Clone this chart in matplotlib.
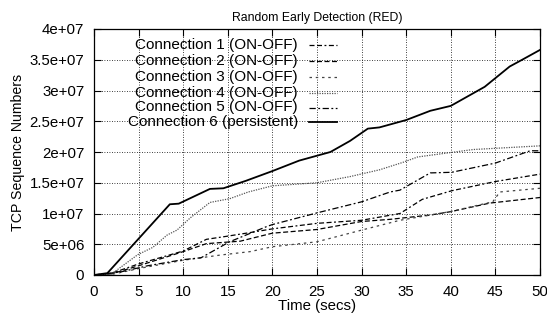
import matplotlib
matplotlib.use("Agg")
import matplotlib.pyplot as plt
from matplotlib.lines import Line2D

plt.rcParams['font.family'] = ['Liberation Sans', 'DejaVu Sans']

title = "Random Early Detection (RED)"
xlabel = "Time (secs)"
ylabel = "TCP Sequence Numbers"

# Connection 1 (ON-OFF)
c1_t = [0, 2, 5, 10, 12.6, 14.9, 17.5, 20, 25, 30, 34.3, 36.8, 40.1, 45, 50]
c1_y = [0, 0.3e6, 1.8e6, 3.9e6, 5.8e6, 6.3e6, 6.9e6, 7.5e6, 8.4e6, 8.9e6, 10.0e6, 12.3e6, 13.7e6, 15.2e6, 16.4e6]
# Connection 2 (ON-OFF)
c2_t = [0, 2, 5, 10, 12.6, 16.4, 20, 25, 30, 33.2, 37.7, 40, 44.4, 46.3, 50]
c2_y = [0, 0.2e6, 1.5e6, 3.8e6, 5.1e6, 5.5e6, 6.8e6, 7.4e6, 8.7e6, 9.05e6, 9.75e6, 10.3e6, 11.7e6, 12.0e6, 12.6e6]
# Connection 3 (ON-OFF)
c3_t = [0, 2, 5.2, 10, 14.2, 17.5, 20, 25, 30, 34.3, 39.9, 44.7, 45.5, 50]
c3_y = [0, 0.1e6, 1.1e6, 2.4e6, 3.25e6, 3.8e6, 4.6e6, 5.4e6, 7.3e6, 8.9e6, 10.3e6, 11.9e6, 13.5e6, 14.1e6]
# Connection 4 (ON-OFF)
c4_t = [0, 2, 4.9, 6.6, 8.2, 9.3, 10.8, 13, 15.2, 17.3, 20, 25, 28.7, 32, 34.6, 36.3, 42.5, 50]
c4_y = [0, 0.2e6, 3.3e6, 4.5e6, 6.5e6, 7.3e6, 9.3e6, 11.8e6, 12.4e6, 13.5e6, 14.5e6, 15.0e6, 16.0e6,
        17.1e6, 18.3e6, 19.2e6, 20.4e6, 21.0e6]
# Connection 5 (ON-OFF)
c5_t = [0, 3, 6, 10, 12, 15.2, 19.4, 20, 25, 30, 33.2, 34.3, 37.7, 40.1, 45, 48.9, 50]
c5_y = [0, 0.5e6, 1.5e6, 2.5e6, 2.8e6, 5.4e6, 7.9e6, 8.2e6, 10.1e6, 11.9e6, 13.5e6, 13.8e6, 16.6e6,
        16.7e6, 18.2e6, 20.2e6, 20.2e6]
# Connection 6 (persistent)
c6_t = [0, 1.5, 8.5, 9.5, 13, 14.5, 17, 20, 23, 25, 26.5, 28.7, 30.7, 32, 35, 37.7, 40, 43.8, 46.6, 48, 50]
c6_y = [0, 0.3e6, 11.5e6, 11.6e6, 14.0e6, 14.1e6, 15.3e6, 16.9e6, 18.6e6, 19.4e6, 20.0e6, 21.8e6,
        23.8e6, 24.0e6, 25.2e6, 26.7e6, 27.5e6, 30.6e6, 33.9e6, 35.0e6, 36.6e6]

labels = ["Connection 1 (ON-OFF)", "Connection 2 (ON-OFF)", "Connection 3 (ON-OFF)",
          "Connection 4 (ON-OFF)", "Connection 5 (ON-OFF)", "Connection 6 (persistent)"]

xticks = [0, 5, 10, 15, 20, 25, 30, 35, 40, 45, 50]
yticks = [0, 5e6, 10e6, 15e6, 20e6, 25e6, 30e6, 35e6, 40e6]
ytick_labels = ["0", "5e+06", "1e+07", "1.5e+07", "2e+07", "2.5e+07", "3e+07", "3.5e+07", "4e+07"]

W, H = 547, 320
fig = plt.figure(figsize=(W / 100, H / 100), dpi=100)
ax = fig.add_axes([94 / W, 1 - 275 / H, (540 - 94) / W, (275 - 29) / H])

series = [(c1_t, c1_y), (c2_t, c2_y), (c3_t, c3_y), (c4_t, c4_y), (c5_t, c5_y), (c6_t, c6_y)]
styles = [
    dict(color='black', lw=0.9, dashes=(4, 2, 4, 2, 1.5, 2)),
    dict(color='black', lw=0.9, dashes=(4, 2)),
    dict(color='#444444', lw=0.9, dashes=(2, 3)),
    dict(color='#555555', lw=0.9, dashes=(1, 1)),
    dict(color='black', lw=0.9, dashes=(5, 2, 1.5, 2)),
    dict(color='black', lw=1.3, linestyle='-'),
]
for (t, y), lab, st in zip(series, labels, styles):
    ax.plot(t, y, label=lab, **st)

ax.set_xlim(0, 50)
ax.set_ylim(0, 4e7)
ax.set_xticks(xticks)
ax.set_xticklabels([str(v) for v in xticks])
ax.set_yticks(yticks)
ax.set_yticklabels(ytick_labels)
ax.tick_params(direction='in', top=True, right=True, length=5, width=0.8, labelsize=10.8, pad=7)
ax.grid(True, color='black', linestyle=(0, (1, 2)), linewidth=0.6)
for s in ax.spines.values():
    s.set_linewidth(0.9)

ax.set_title(title, fontsize=8.8, pad=6)
ax.set_xlabel(xlabel, fontsize=10.8, labelpad=0)
ax.set_ylabel(ylabel, fontsize=10.2, labelpad=3)

# key: right-aligned labels with line samples to their right
row_y = [45, 61, 77, 92.5, 107.5, 122]
for lab, st, ry in zip(labels, styles, row_y):
    fy = 1 - ry / H
    fig.text(298 / W, fy, lab, ha='right', va='center', fontsize=11)
    fig.add_artist(Line2D([309 / W, 337 / W], [fy, fy], transform=fig.transFigure, **st))

fig.savefig("out.png", dpi=100)
